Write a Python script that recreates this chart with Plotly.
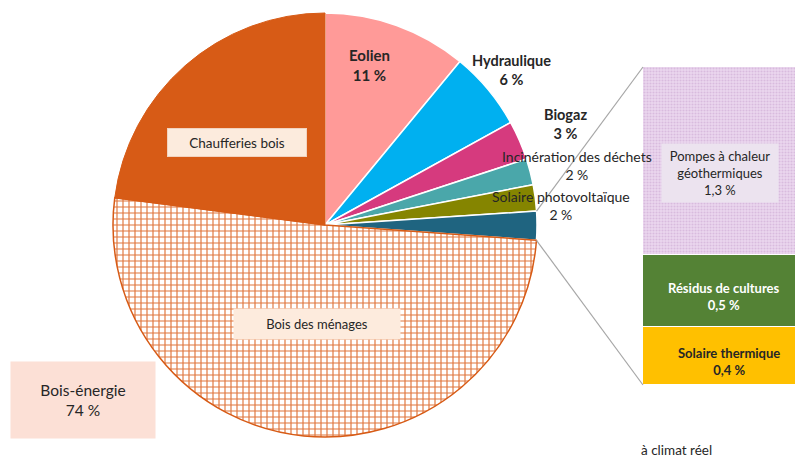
import math
import plotly.graph_objects as go

W, H = 796, 460

# Pie data (% of total), clockwise from 12 o'clock
pie_labels = ["Eolien", "Hydraulique", "Biogaz", "Incinération des déchets",
              "Solaire photovoltaïque", "Autres", "Bois des ménages", "Chaufferies bois"]
pie_values = [11, 6, 3, 2, 2, 2.2, 51, 23]
pie_colors = ["#FF9A98", "#00B0F0", "#D63A7E", "#4AA7AA", "#858500", "#1F6480",
              "#FFFFFF", "#D75B16"]

# Breakdown of "Autres" (bar)
bar_labels = ["Solaire thermique", "Résidus de cultures", "Pompes à chaleur géothermiques"]
bar_values = [0.4, 0.5, 1.3]
bar_colors = ["#FFC000", "#548235", "#E9D3EC"]

FONT = "Lato"

# pie geometry (pixels)
pcx, pcy, pr = 325, 225, 212
dom_x = [(pcx - pr) / W, (pcx + pr) / W]
dom_y = [(H - pcy - pr) / H, (H - pcy + pr) / H]

fig = go.Figure()
fig.add_trace(go.Pie(
    labels=pie_labels, values=pie_values, sort=False, direction="clockwise",
    rotation=0, textinfo="none", showlegend=False,
    domain=dict(x=dom_x, y=dom_y),
    marker=dict(
        colors=pie_colors,
        line=dict(color=["white"] * 6 + ["#D75B16", "#D75B16"],
                  width=[1.5] * 6 + [1.5, 1]),
        pattern=dict(shape=[""] * 6 + ["+", ""], fgcolor="#E0763C",
                     bgcolor=pie_colors, size=6, solidity=0.35),
    ),
))

# bar (pie-of-bar)
bx0, by_top, by_bot = 643, 67, 385
for lab, v, c in zip(bar_labels, bar_values, bar_colors):
    fig.add_trace(go.Bar(
        x=[0], y=[v], name=lab, width=1, showlegend=False,
        marker=dict(color=c, line=dict(color="white", width=1.5),
                    pattern=dict(shape="." if lab.startswith("Pompes") else "",
                                 fgcolor="#C59FCD", bgcolor="#EBD7EE", size=3, solidity=0.4)),
        xaxis="x", yaxis="y",
    ))

total_bar = sum(bar_values)
fig.update_layout(
    width=W, height=H, margin=dict(l=0, r=0, t=0, b=0),
    paper_bgcolor="white", plot_bgcolor="white",
    barmode="stack", bargap=0,
    font=dict(family=FONT, color="#262626"),
    xaxis=dict(domain=[bx0 / W, 1], range=[-0.5, 0.5], visible=False, fixedrange=True),
    yaxis=dict(domain=[(H - by_bot) / H, (H - by_top) / H], range=[0, total_bar],
               visible=False, fixedrange=True),
)

# connector lines from the "Autres" slice to the bar
cum_before = sum(pie_values[:5])
tot = sum(pie_values)
a1 = 2 * math.pi * cum_before / tot
a2 = 2 * math.pi * (cum_before + pie_values[5]) / tot
def pie_pt(a):
    return ((pcx + pr * math.sin(a)) / W, (H - (pcy - pr * math.cos(a))) / H)
p1, p2 = pie_pt(a1), pie_pt(a2)
fig.add_shape(type="line", xref="paper", yref="paper", x0=p1[0], y0=p1[1],
              x1=bx0 / W, y1=(H - by_top) / H, line=dict(color="#A6A6A6", width=1.2))
fig.add_shape(type="line", xref="paper", yref="paper", x0=p2[0], y0=p2[1],
              x1=bx0 / W, y1=(H - by_bot) / H, line=dict(color="#A6A6A6", width=1.2))

def ann(text, x, y, size=13, bold=True, color="#262626", **kw):
    t = "<b>" + text + "</b>" if bold else text
    fig.add_annotation(text=t, x=x / W, y=(H - y) / H, xref="paper", yref="paper",
                       xanchor="center", yanchor="middle",
                       showarrow=False, font=dict(size=size, color=color, family=FONT), **kw)

ann("Eolien<br>11 %", 369, 65, size=15)
ann("Hydraulique<br>6 %", 511, 70, size=14.5)
ann("Biogaz<br>3 %", 565, 124, size=14.5)
ann("Incinération des déchets<br>2 %", 577, 165, size=14, bold=False)
ann("Solaire photovoltaïque<br>2 %", 561, 205, size=14, bold=False)
ann("Chaufferies bois", 237, 142, size=13.5, bold=False, bgcolor="#FCEBDD",
    width=136, height=25, bordercolor="#F2D3BF", borderwidth=1)
ann("Bois des ménages", 317, 324, size=13, bold=False, bgcolor="#FDEBDD",
    width=164, height=28)
ann("Bois-énergie<br>74 %", 83, 400, size=15.5, bold=False, bgcolor="#FCE0D6",
    width=142, height=74)
ann("Pompes à chaleur<br>géothermiques<br>1,3 %", 720, 173, size=13, bold=False,
    bgcolor="#ECE3EF", width=114, height=56)
ann("Résidus de cultures<br>0,5 %", 724, 297, size=13, color="white")
ann("Solaire thermique<br>0,4 %", 729, 361, size=13)
ann("à climat réel", 676, 450, size=13.5, bold=False)

fig.write_html("out.html", post_script="document.body.style.margin='0px';",
               config={"displayModeBar": False})
